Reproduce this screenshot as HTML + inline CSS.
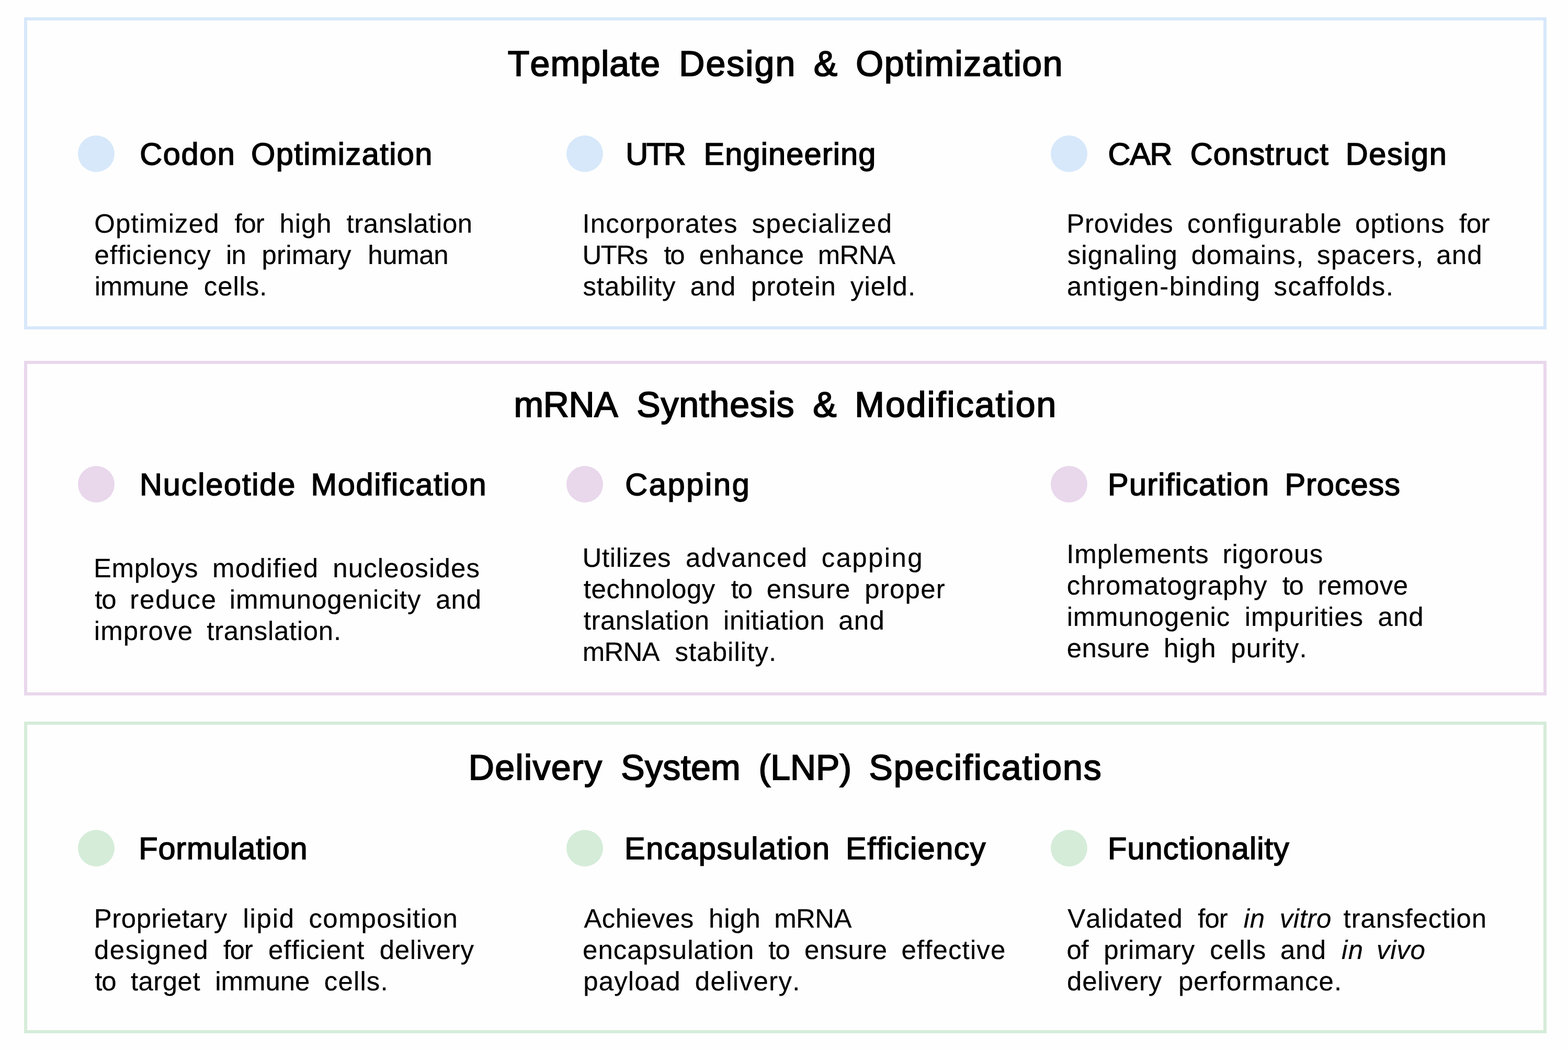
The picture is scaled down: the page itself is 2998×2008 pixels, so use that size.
<!DOCTYPE html>
<html lang="en">
<head>
<meta charset="utf-8">
<title>mRNA platform specifications</title>
<style>
html,body{margin:0;padding:0;}
body{width:2998px;height:2008px;background:#fefefe;overflow:hidden;position:relative;
font-family:"Liberation Sans",Arial,Helvetica,sans-serif;text-rendering:geometricPrecision;font-kerning:none;font-variant-ligatures:none;}
section,article,p{margin:0;padding:0;}
.box{position:absolute;box-sizing:border-box;border:6px solid;}
.dot{position:absolute;border-radius:50%;width:70px;height:70px;}
.t{position:absolute;left:0;display:block;white-space:nowrap;line-height:80px;margin:0;padding:0;font-weight:400;font-style:normal;}
.t em{font-style:italic;}
.ti{font-size:68px;word-spacing:14px;color:#000;-webkit-text-stroke:1.9px #000;}
.hd{font-size:59.5px;word-spacing:13px;color:#000;-webkit-text-stroke:1.6px #000;}
.bd{font-size:51px;word-spacing:11px;color:#000;-webkit-text-stroke:0.2px #000;}
</style>
</head>
<body>
<section>
<div class="box" style="left:46px;top:33px;width:2911px;height:597px;border-color:#d7e8fa"></div>
<h2 class="t ti" style="top:82px"><span style="letter-spacing:1.13px;margin-left:970.8px;">Template</span> <span style="letter-spacing:2.07px;margin-left:2.04px;">Design</span> <span style="letter-spacing:1px;margin-left:0.42px;">&amp;</span> <span style="letter-spacing:1.58px;margin-left:1.39px;">Optimization</span></h2>
<article>
<div class="dot" style="left:149px;top:259px;background:#d7e8fa"></div>
<h3 class="t hd" style="top:255px"><span style="letter-spacing:1.59px;margin-left:267.22px;">Codon</span> <span style="letter-spacing:1.43px;margin-left:-0.02px;">Optimization</span></h3>
<div class="desc">
<div class="t bd" style="top:388px"><span style="letter-spacing:1.1px;margin-left:180.18px;">Optimized</span> <span style="letter-spacing:-1.07px;margin-left:3.56px;">for</span> <span style="letter-spacing:0.91px;margin-left:4.71px;">high</span> <span style="letter-spacing:0.53px;margin-left:2.74px;">translation</span></div>
<div class="t bd" style="top:448px"><span style="letter-spacing:1.09px;margin-left:180.48px;">efficiency</span> <span style="letter-spacing:-0.95px;margin-left:2.93px;">in</span> <span style="letter-spacing:0.17px;margin-left:5.56px;">primary</span> <span style="letter-spacing:-0.41px;margin-left:6.41px;">human</span></div>
<div class="t bd" style="top:508px"><span style="letter-spacing:-0.16px;margin-left:180.65px;">immune</span> <span style="letter-spacing:0.88px;margin-left:3.54px;">cells.</span></div>
</div>
</article>
<article>
<div class="dot" style="left:1083px;top:259px;background:#d7e8fa"></div>
<h3 class="t hd" style="top:255px"><span style="letter-spacing:-3.49px;margin-left:1196.36px;">UTR</span> <span style="letter-spacing:1.14px;margin-left:7.69px;">Engineering</span></h3>
<div class="desc">
<div class="t bd" style="top:388px"><span style="letter-spacing:1.16px;margin-left:1113.39px;">Incorporates</span> <span style="letter-spacing:1.52px;margin-left:1.6px;">specialized</span></div>
<div class="t bd" style="top:448px"><span style="letter-spacing:-1.54px;margin-left:1113.48px;">UTRs</span> <span style="letter-spacing:-2.38px;margin-left:6.79px;">to</span> <span style="letter-spacing:0.77px;margin-left:4.26px;">enhance</span> <span style="letter-spacing:-0.56px;margin-left:0.6px;">mRNA</span></div>
<div class="t bd" style="top:508px"><span style="letter-spacing:0.87px;margin-left:1114.51px;">stability</span> <span style="letter-spacing:0.85px;margin-left:2.13px;">and</span> <span style="letter-spacing:0.97px;margin-left:3.57px;">protein</span> <span style="letter-spacing:1.01px;margin-left:2.04px;">yield.</span></div>
</div>
</article>
<article>
<div class="dot" style="left:2009px;top:259px;background:#d7e8fa"></div>
<h3 class="t hd" style="top:255px"><span style="letter-spacing:-1.27px;margin-left:2118.45px;">CAR</span> <span style="letter-spacing:1.18px;margin-left:5.91px;">Construct</span> <span style="letter-spacing:1.58px;margin-left:2.28px;">Design</span></h3>
<div class="desc">
<div class="t bd" style="top:388px"><span style="letter-spacing:0.73px;margin-left:2039.33px;">Provides</span> <span style="letter-spacing:1.55px;margin-left:1.23px;">configurable</span> <span style="letter-spacing:1.01px;margin-left:-0.56px;">options</span> <span style="letter-spacing:-0.6px;margin-left:2.31px;">for</span></div>
<div class="t bd" style="top:448px"><span style="letter-spacing:1.12px;margin-left:2040.66px;">signaling</span> <span style="letter-spacing:1.12px;margin-left:0.42px;">domains,</span> <span style="letter-spacing:1.49px;margin-left:-0.63px;">spacers,</span> <span style="letter-spacing:1.2px;margin-left:-1.73px;">and</span></div>
<div class="t bd" style="top:508px"><span style="letter-spacing:1.43px;margin-left:2040.04px;">antigen-binding</span> <span style="letter-spacing:1.43px;margin-left:0.12px;">scaffolds.</span></div>
</div>
</article>
</section>
<section>
<div class="box" style="left:46px;top:690px;width:2911px;height:640px;border-color:#e9d7ec"></div>
<h2 class="t ti" style="top:734px"><span style="letter-spacing:-0.36px;margin-left:982.46px;">mRNA</span> <span style="letter-spacing:0.81px;margin-left:3.14px;">Synthesis</span> <span style="letter-spacing:1px;margin-left:1.97px;">&amp;</span> <span style="letter-spacing:2.02px;margin-left:0.72px;">Modification</span></h2>
<article>
<div class="dot" style="left:149px;top:891px;background:#e9d7ec"></div>
<h3 class="t hd" style="top:887px"><span style="letter-spacing:1.8px;margin-left:267px;">Nucleotide</span> <span style="letter-spacing:1.59px;margin-left:-1.09px;">Modification</span></h3>
<div class="desc">
<div class="t bd" style="top:1047px"><span style="letter-spacing:0.68px;margin-left:178.91px;">Employs</span> <span style="letter-spacing:1.34px;margin-left:1.65px;">modified</span> <span style="letter-spacing:1.14px;margin-left:1.46px;">nucleosides</span></div>
<div class="t bd" style="top:1107px"><span style="letter-spacing:-1.25px;margin-left:181.35px;">to</span> <span style="letter-spacing:1.77px;margin-left:1.71px;">reduce</span> <span style="letter-spacing:0.88px;margin-left:-1.33px;">immunogenicity</span> <span style="letter-spacing:0.84px;margin-left:2.86px;">and</span></div>
<div class="t bd" style="top:1167px"><span style="letter-spacing:1.17px;margin-left:179.65px;">improve</span> <span style="letter-spacing:0.68px;margin-left:0.73px;">translation.</span></div>
</div>
</article>
<article>
<div class="dot" style="left:1083px;top:891px;background:#e9d7ec"></div>
<h3 class="t hd" style="top:887px"><span style="letter-spacing:2.64px;margin-left:1195.25px;">Capping</span></h3>
<div class="desc">
<div class="t bd" style="top:1027px"><span style="letter-spacing:0.68px;margin-left:1113.48px;">Utilizes</span> <span style="letter-spacing:1.59px;margin-left:2.48px;">advanced</span> <span style="letter-spacing:2.37px;margin-left:0.79px;">capping</span></div>
<div class="t bd" style="top:1087px"><span style="letter-spacing:0.54px;margin-left:1115.8px;">technology</span> <span style="letter-spacing:-1.34px;margin-left:4.77px;">to</span> <span style="letter-spacing:0.72px;margin-left:2.87px;">ensure</span> <span style="letter-spacing:1.21px;margin-left:2.1px;">proper</span></div>
<div class="t bd" style="top:1147px"><span style="letter-spacing:0.49px;margin-left:1115.8px;">translation</span> <span style="letter-spacing:0.71px;margin-left:1.41px;">initiation</span> <span style="letter-spacing:1.27px;margin-left:0.66px;">and</span></div>
<div class="t bd" style="top:1207px"><span style="letter-spacing:-0.75px;margin-left:1113.68px;">mRNA</span> <span style="letter-spacing:1.07px;margin-left:4.38px;">stability.</span></div>
</div>
</article>
<article>
<div class="dot" style="left:2009px;top:891px;background:#e9d7ec"></div>
<h3 class="t hd" style="top:887px"><span style="letter-spacing:1.24px;margin-left:2118.01px;">Purification</span> <span style="letter-spacing:0.94px;margin-left:-0.28px;">Process</span></h3>
<div class="desc">
<div class="t bd" style="top:1020px"><span style="letter-spacing:0.87px;margin-left:2039.28px;">Implements</span> <span style="letter-spacing:1.08px;margin-left:0.65px;">rigorous</span></div>
<div class="t bd" style="top:1080px"><span style="letter-spacing:1.08px;margin-left:2039.82px;">chromatography</span> <span style="letter-spacing:-1.79px;margin-left:3.39px;">to</span> <span style="letter-spacing:0.52px;margin-left:3.29px;">remove</span></div>
<div class="t bd" style="top:1140px"><span style="letter-spacing:0.83px;margin-left:2039.65px;">immunogenic</span> <span style="letter-spacing:0.9px;margin-left:2.53px;">impurities</span> <span style="letter-spacing:0.99px;margin-left:2.43px;">and</span></div>
<div class="t bd" style="top:1200px"><span style="letter-spacing:0.51px;margin-left:2039.73px;">ensure</span> <span style="letter-spacing:1.07px;margin-left:1.11px;">high</span> <span style="letter-spacing:1.07px;margin-left:2.43px;">purity.</span></div>
</div>
</article>
</section>
<section>
<div class="box" style="left:46px;top:1380px;width:2911px;height:596px;border-color:#d5ecd9"></div>
<h2 class="t ti" style="top:1428px"><span style="letter-spacing:1.38px;margin-left:895.79px;">Delivery</span> <span style="letter-spacing:0.33px;margin-left:1.97px;">System</span> <span style="letter-spacing:-0.02px;margin-left:1.62px;">(LNP)</span> <span style="letter-spacing:1.91px;margin-left:0.48px;">Specifications</span></h2>
<article>
<div class="dot" style="left:149px;top:1587px;background:#d5ecd9"></div>
<h3 class="t hd" style="top:1583px"><span style="letter-spacing:0.83px;margin-left:265.25px;">Formulation</span></h3>
<div class="desc">
<div class="t bd" style="top:1717px"><span style="letter-spacing:0.49px;margin-left:179.85px;">Proprietary</span> <span style="letter-spacing:1.7px;margin-left:4.71px;">lipid</span> <span style="letter-spacing:1.21px;margin-left:1.68px;">composition</span></div>
<div class="t bd" style="top:1777px"><span style="letter-spacing:1.51px;margin-left:179.93px;">designed</span> <span style="letter-spacing:-1.35px;margin-left:2.74px;">for</span> <span style="letter-spacing:0.96px;margin-left:5.49px;">efficient</span> <span style="letter-spacing:0.64px;margin-left:3.1px;">delivery</span></div>
<div class="t bd" style="top:1837px"><span style="letter-spacing:-1.25px;margin-left:181.35px;">to</span> <span style="letter-spacing:0.46px;margin-left:3.32px;">target</span> <span style="letter-spacing:-0.03px;margin-left:2.99px;">immune</span> <span style="letter-spacing:1.13px;margin-left:2.19px;">cells.</span></div>
</div>
</article>
<article>
<div class="dot" style="left:1083px;top:1587px;background:#d5ecd9"></div>
<h3 class="t hd" style="top:1583px"><span style="letter-spacing:1.52px;margin-left:1194px;">Encapsulation</span> <span style="letter-spacing:1.44px;margin-left:-0.06px;">Efficiency</span></h3>
<div class="desc">
<div class="t bd" style="top:1717px"><span style="letter-spacing:0.42px;margin-left:1116.42px;">Achieves</span> <span style="letter-spacing:0.83px;margin-left:3.14px;">high</span> <span style="letter-spacing:-0.63px;margin-left:0.32px;">mRNA</span></div>
<div class="t bd" style="top:1777px"><span style="letter-spacing:1.06px;margin-left:1113.96px;">encapsulation</span> <span style="letter-spacing:-0.85px;margin-left:1.57px;">to</span> <span style="letter-spacing:0.42px;margin-left:2.89px;">ensure</span> <span style="letter-spacing:1.12px;margin-left:1.69px;">effective</span></div>
<div class="t bd" style="top:1837px"><span style="letter-spacing:1.13px;margin-left:1115.16px;">payload</span> <span style="letter-spacing:1.36px;margin-left:1.8px;">delivery.</span></div>
</div>
</article>
<article>
<div class="dot" style="left:2009px;top:1587px;background:#d5ecd9"></div>
<h3 class="t hd" style="top:1583px"><span style="letter-spacing:1.07px;margin-left:2118.01px;">Functionality</span></h3>
<div class="desc">
<div class="t bd" style="top:1717px"><span style="letter-spacing:0.86px;margin-left:2041.37px;">Validated</span> <span style="letter-spacing:-1.02px;margin-left:3.33px;">for</span> <em style="letter-spacing:0.64px;margin-left:5.86px;">in</em> <em style="letter-spacing:0.58px;margin-left:2.8px;">vitro</em> <span style="letter-spacing:0.9px;margin-left:-2.59px;">transfection</span></div>
<div class="t bd" style="top:1777px"><span style="letter-spacing:-0.62px;margin-left:2039.4px;">of</span> <span style="letter-spacing:0.64px;margin-left:4.47px;">primary</span> <span style="letter-spacing:1.24px;margin-left:3.19px;">cells</span> <span style="letter-spacing:0.96px;margin-left:1.46px;">and</span> <em style="letter-spacing:1.33px;margin-left:3.78px;">in</em> <em style="letter-spacing:0.71px;margin-left:-0.43px;">vivo</em></div>
<div class="t bd" style="top:1837px"><span style="letter-spacing:0.8px;margin-left:2040.03px;">delivery</span> <span style="letter-spacing:1.07px;margin-left:5.62px;">performance.</span></div>
</div>
</article>
</section>
</body>
</html>
